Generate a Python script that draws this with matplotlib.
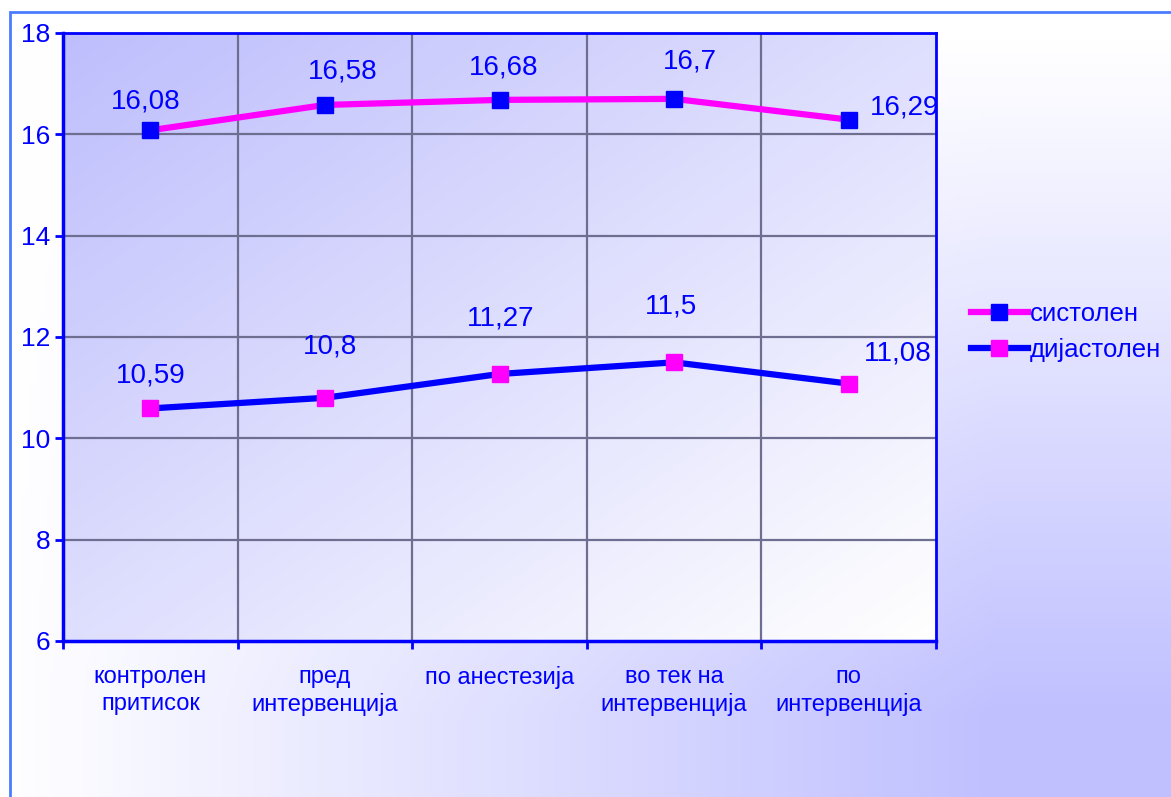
#!/usr/bin/env python

import numpy as np
import matplotlib.pyplot as plt
from matplotlib.patches import Rectangle

plt.rcParams["font.family"] = ["Liberation Sans", "DejaVu Sans"]

categories = ["контролен\nпритисок", "пред\nинтервенција", "по анестезија",
              "во тек на\nинтервенција", "по\nинтервенција"]
systolic = [16.08, 16.58, 16.68, 16.7, 16.29]
diastolic = [10.59, 10.8, 11.27, 11.5, 11.08]
systolic_labels = ["16,08", "16,58", "16,68", "16,7", "16,29"]
diastolic_labels = ["10,59", "10,8", "11,27", "11,5", "11,08"]

# label offsets in points (dx, dy)
sys_off = [(-3, 21), (13, 24), (3, 23), (11, 27), (40, 9)]
dia_off = [(0, 24), (4, 37), (1, 40), (-2, 40), (35, 22)]

BLUE = "#0000ff"
MAGENTA = "#ff00ff"

W, H = 1171, 797
fig = plt.figure(figsize=(W / 100, H / 100), dpi=100)

# figure background gradient: white along the top and left, lavender toward bottom-right
bg = fig.add_axes([0, 0, 1, 1], zorder=-10)
yy, xx = np.mgrid[0:1:200j, 0:1:300j]
fx = np.clip(xx / 0.85, 0, 1)
gy = np.clip((yy - 0.05) / 0.85, 0, 1)
t = fx * gy
c0 = np.array([1.0, 1.0, 1.0])
c1 = np.array([192, 192, 255]) / 255
img = c0 + (c1 - c0) * t[..., None]
bg.imshow(img, extent=[0, 1, 0, 1], origin="upper", aspect="auto")
bg.set_xlim(0, 1)
bg.set_ylim(0, 1)
bg.axis("off")
bg.add_patch(Rectangle((10 / W, -0.1), 1.2, 0.1 + (H - 12) / H,
                       fill=False, edgecolor="#4a7cff", linewidth=2))

ax = fig.add_axes([63 / W, 156 / H, 873 / W, 608 / H])
x = np.arange(len(categories))

# plot area gradient (lavender top-left -> white bottom-right)
t2 = np.clip(0.5 * xx + 0.5 * yy, 0, 1)
p0 = np.array([190, 190, 253]) / 255
p1 = np.array([1.0, 1.0, 1.0])
img2 = p0 + (p1 - p0) * t2[..., None]
ax.imshow(img2, extent=[-0.5, 4.5, 6, 18], origin="upper", aspect="auto", zorder=0)

ax.set_xlim(-0.5, 4.5)
ax.set_ylim(6, 18)

for b in np.arange(0.5, 4.5, 1.0):
    ax.axvline(b, color="#6e6e90", linewidth=1.6, zorder=1)
for yv in [8, 10, 12, 14, 16]:
    ax.axhline(yv, color="#6e6e90", linewidth=1.6, zorder=1)

ax.plot(x, systolic, color=MAGENTA, linewidth=4.5, marker="s", markersize=11,
        markerfacecolor=BLUE, markeredgecolor=BLUE, label="систолен", zorder=3)
ax.plot(x, diastolic, color=BLUE, linewidth=4.5, marker="s", markersize=11,
        markerfacecolor=MAGENTA, markeredgecolor=MAGENTA, label="дијастолен", zorder=3)

for xi, v, lab, off in zip(x, systolic, systolic_labels, sys_off):
    ax.annotate(lab, (xi, v), xytext=off, textcoords="offset points",
                ha="center", va="center", fontsize=20, color=BLUE, zorder=4)
for xi, v, lab, off in zip(x, diastolic, diastolic_labels, dia_off):
    ax.annotate(lab, (xi, v), xytext=off, textcoords="offset points",
                ha="center", va="center", fontsize=20, color=BLUE, zorder=4)

ax.set_yticks([6, 8, 10, 12, 14, 16, 18])
ax.set_yticklabels(["6", "8", "10", "12", "14", "16", "18"], fontsize=19, color=BLUE)
ax.set_xticks(np.arange(-0.5, 5, 1.0))
ax.set_xticklabels([])
ax.set_xticks(x, minor=True)
ax.set_xticklabels(categories, minor=True, fontsize=17, color=BLUE, linespacing=1.3)
ax.tick_params(axis="x", which="minor", length=0, pad=18)
ax.tick_params(axis="x", which="major", length=6, width=2, color=BLUE, direction="out")
ax.tick_params(axis="y", length=6, width=2, color=BLUE, direction="out", pad=3)

for side in ["left", "bottom"]:
    ax.spines[side].set_color(BLUE)
    ax.spines[side].set_linewidth(2.5)
for side in ["top", "right"]:
    ax.spines[side].set_color(BLUE)
    ax.spines[side].set_linewidth(2)

leg = fig.legend(loc="center left", bbox_to_anchor=(948 / W, 1 - 332 / H),
                 frameon=False, fontsize=18.5, handlelength=2.2, handletextpad=0.1,
                 labelspacing=0.5, labelcolor=BLUE)

fig.savefig("out.png", dpi=100)
